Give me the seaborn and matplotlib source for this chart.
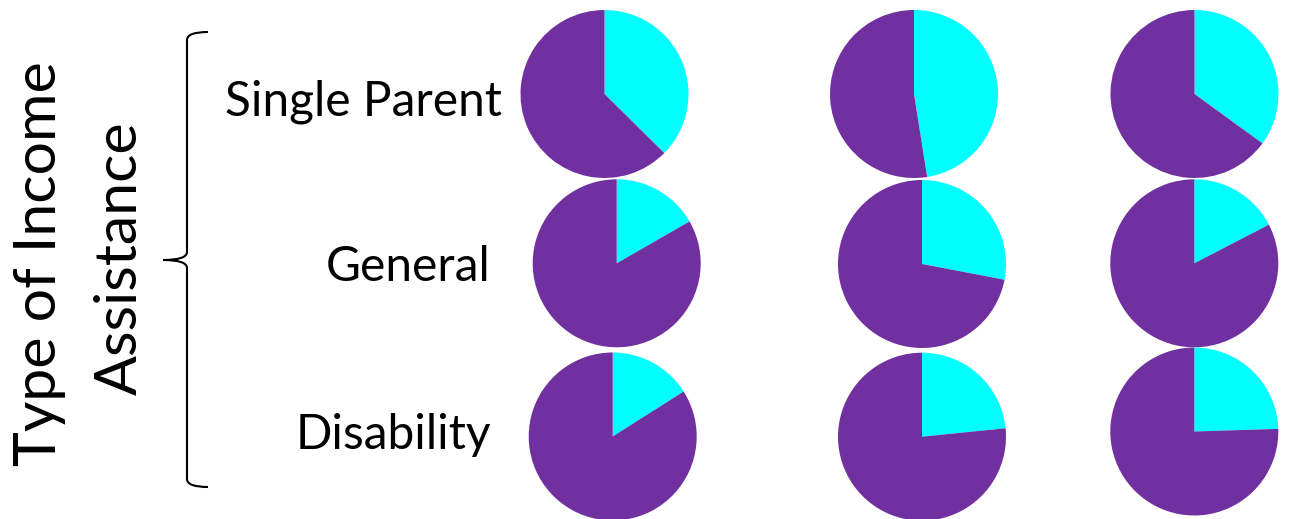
import numpy as np
import matplotlib
matplotlib.use("Agg")
import matplotlib.pyplot as plt
import seaborn as sns
from matplotlib.path import Path
from matplotlib.patches import PathPatch

# ---- data ----
categories = ["Single Parent", "General", "Disability"]
col1_share = [0.374, 0.167, 0.160]   # cyan share, first column of pies
col2_share = [0.475, 0.280, 0.234]   # cyan share, second column
col3_share = [0.350, 0.174, 0.245]   # cyan share, third column
axis_title = ["Type of Income", "Assistance"]

sns.set_theme(style="white")
plt.rcParams['font.family'] = ['Lato', 'DejaVu Sans']

pal = sns.color_palette(["#00FFFF", "#7030A0"])

W, H = 1291, 519
fig = plt.figure(figsize=(W / 100, H / 100), dpi=100)
fig.patch.set_facecolor("white")

overlay = fig.add_axes([0, 0, 1, 1])
overlay.set_xlim(0, W)
overlay.set_ylim(H, 0)
overlay.axis("off")

# layout (pixel centres of each pie)
centres_x = [[604.5, 914, 1194.5], [616.7, 922, 1194.3], [612.7, 922, 1194.3]]
centres_y = [[94, 94, 94], [263.3, 264, 263.3], [436.5, 436.7, 431.5]]
R = 84

shares = list(zip(col1_share, col2_share, col3_share))
for i in range(3):
    for j in range(3):
        cx, cy = centres_x[i][j], centres_y[i][j]
        ax = fig.add_axes([(cx - R) / W, 1 - (cy + R) / H, 2 * R / W, 2 * R / H])
        s = shares[i][j]
        ax.pie([s, 1 - s], colors=pal, startangle=90, counterclock=False,
               radius=1, wedgeprops=dict(linewidth=0))
        ax.set_xlim(-1, 1)
        ax.set_ylim(-1, 1)
        ax.axis("off")

# row labels
label_right = [502, 490, 491]
label_base = [116, 281, 449]
for lab, xr, yb in zip(categories, label_right, label_base):
    overlay.text(xr, yb, lab, ha="right", va="baseline", fontsize=34.5, color="black")

# axis title (two rotated lines)
overlay.text(56, 264, axis_title[0], rotation=90, rotation_mode="anchor",
             ha="center", va="baseline", fontsize=42.5, color="black")
overlay.text(137, 258, axis_title[1], rotation=90, rotation_mode="anchor",
             ha="center", va="baseline", fontsize=42.5, color="black")

# curly brace
x0, xe, xm = 187, 208, 163
top, bot, mid = 32, 487, 260
verts = [(xe, top), (x0, top), (x0, top + 8),
         (x0, mid - 8),
         (x0, mid), (xm, mid),
         (x0, mid), (x0, mid + 8),
         (x0, bot - 8),
         (x0, bot), (xe, bot)]
codes = [Path.MOVETO, Path.CURVE3, Path.CURVE3,
         Path.LINETO,
         Path.CURVE3, Path.CURVE3,
         Path.CURVE3, Path.CURVE3,
         Path.LINETO,
         Path.CURVE3, Path.CURVE3]
overlay.add_patch(PathPatch(Path(verts, codes), fill=False, lw=1.5, edgecolor="black"))

fig.savefig("out.png", dpi=100, facecolor="white")
